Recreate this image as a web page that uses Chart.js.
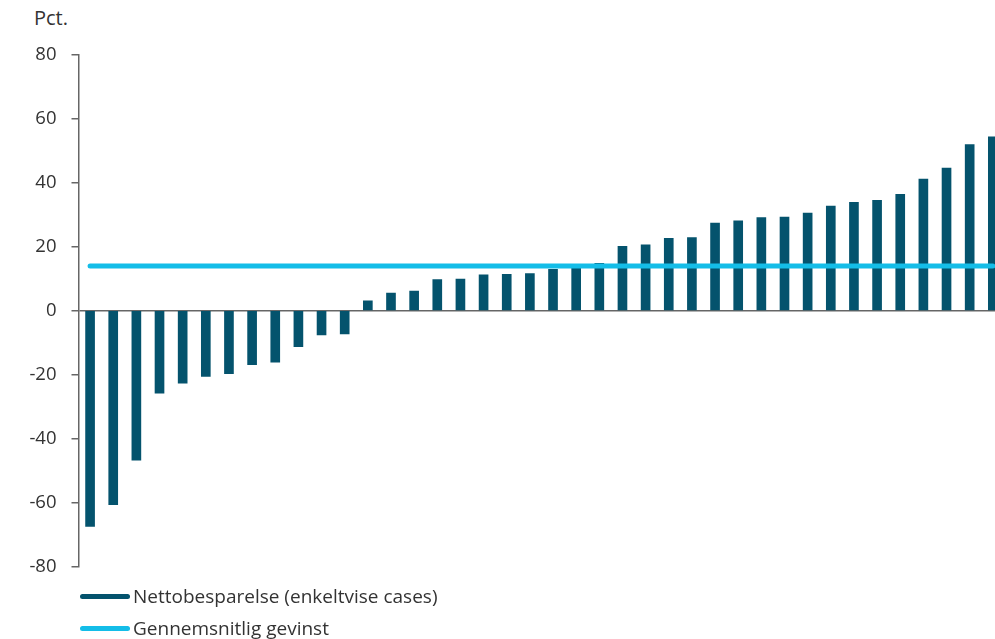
<!DOCTYPE html>
<html lang="da">
<head>
<meta charset="utf-8">
<script src="https://cdn.jsdelivr.net/npm/chart.js@4/dist/chart.umd.min.js"></script>
<style>
  html, body { margin: 0; padding: 0; background: #fff; overflow: hidden; }
  body { width: 995px; height: 639px; position: relative; font-family: "Open Sans", "Noto Sans", sans-serif; color: #333; }
  #wrap { position: absolute; left: 0; top: 0; width: 1005px; height: 639px; }
  #unit { position: absolute; left: 34px; top: 4px; font-size: 20px; color: #333; }
  #legend { position: absolute; left: 80px; top: 580px; font-size: 19px; color: #333; }
  .item { display: flex; align-items: center; height: 32px; }
  .swatch { width: 50px; height: 5px; border-radius: 3px; margin-right: 3px; }
</style>
</head>
<body>
<div id="unit">Pct.</div>
<div id="wrap"><canvas id="chart"></canvas></div>
<div id="legend"></div>
<script>
// Net savings per individual case, sorted from lowest to highest (pct.)
const cases = ['1','2','3','4','5','6','7','8','9','10','11','12','13','14','15','16','17','18','19','20',
               '21','22','23','24','25','26','27','28','29','30','31','32','33','34','35','36','37','38','39','40'];
const nettobesparelse = [-67.5, -60.7, -46.8, -25.8, -22.7, -20.6, -19.7, -16.9, -16.1, -11.3,
                         -7.6, -7.3, 3.1, 5.5, 6.1, 9.7, 9.9, 11.2, 11.4, 11.6,
                         12.9, 13.6, 14.8, 20.1, 20.6, 22.6, 22.9, 27.4, 28.1, 29.1,
                         29.3, 30.5, 32.7, 33.9, 34.5, 36.4, 41.2, 44.6, 52.0, 54.4];
// Average gain across all cases (pct.)
const gennemsnit = [14, 14, 14, 14, 14, 14, 14, 14, 14, 14, 14, 14, 14, 14, 14, 14, 14, 14, 14, 14,
                    14, 14, 14, 14, 14, 14, 14, 14, 14, 14, 14, 14, 14, 14, 14, 14, 14, 14, 14, 14];
const yTicks = [-80, -60, -40, -20, 0, 20, 40, 60, 80];
const seriesNames = ['Nettobesparelse (enkeltvise cases)', 'Gennemsnitlig gevinst'];

const darkBlue = '#04536d';
const lightBlue = '#14bde8';
const axisGrey = '#666666';

const chart = new Chart(document.getElementById('chart'), {
  type: 'bar',
  data: {
    labels: cases,
    datasets: [
      {
        type: 'line',
        label: seriesNames[1],
        data: gennemsnit,
        borderColor: lightBlue,
        borderWidth: 5,
        borderCapStyle: 'round',
        pointRadius: 0,
        fill: false,
        order: 0
      },
      {
        type: 'bar',
        label: seriesNames[0],
        data: nettobesparelse,
        backgroundColor: darkBlue,
        barThickness: 9,
        order: 1
      }
    ]
  },
  options: {
    responsive: true,
    maintainAspectRatio: false,
    animation: false,
    layout: { padding: { top: 55, bottom: 72.7, left: 0, right: 0.6 } },
    plugins: { legend: { display: false }, tooltip: { enabled: false } },
    scales: {
      x: { display: false, offset: true },
      y: {
        min: -80,
        max: 80,
        afterBuildTicks: (s) => { s.ticks = yTicks.map(v => ({ value: v })); },
        afterFit: (s) => { s.width = 78.5; },
        border: { display: true, color: axisGrey, width: 1.5 },
        grid: {
          drawOnChartArea: true,
          color: (ctx) => (ctx.tick && ctx.tick.value === 0 ? axisGrey : 'rgba(0,0,0,0)'),
          tickColor: axisGrey,
          tickLength: 7,
          lineWidth: 1.5
        },
        ticks: {
          padding: 15,
          color: '#333',
          font: { family: 'Open Sans', size: 18.5 }
        }
      }
    }
  }
});

// Legend rows built from the dataset styles
const legend = document.getElementById('legend');
[[seriesNames[0], darkBlue], [seriesNames[1], lightBlue]].forEach(([name, col]) => {
  const row = document.createElement('div');
  row.className = 'item';
  const sw = document.createElement('span');
  sw.className = 'swatch';
  sw.style.background = col;
  const tx = document.createElement('span');
  tx.textContent = name;
  row.appendChild(sw);
  row.appendChild(tx);
  legend.appendChild(row);
});
</script>
</body>
</html>
